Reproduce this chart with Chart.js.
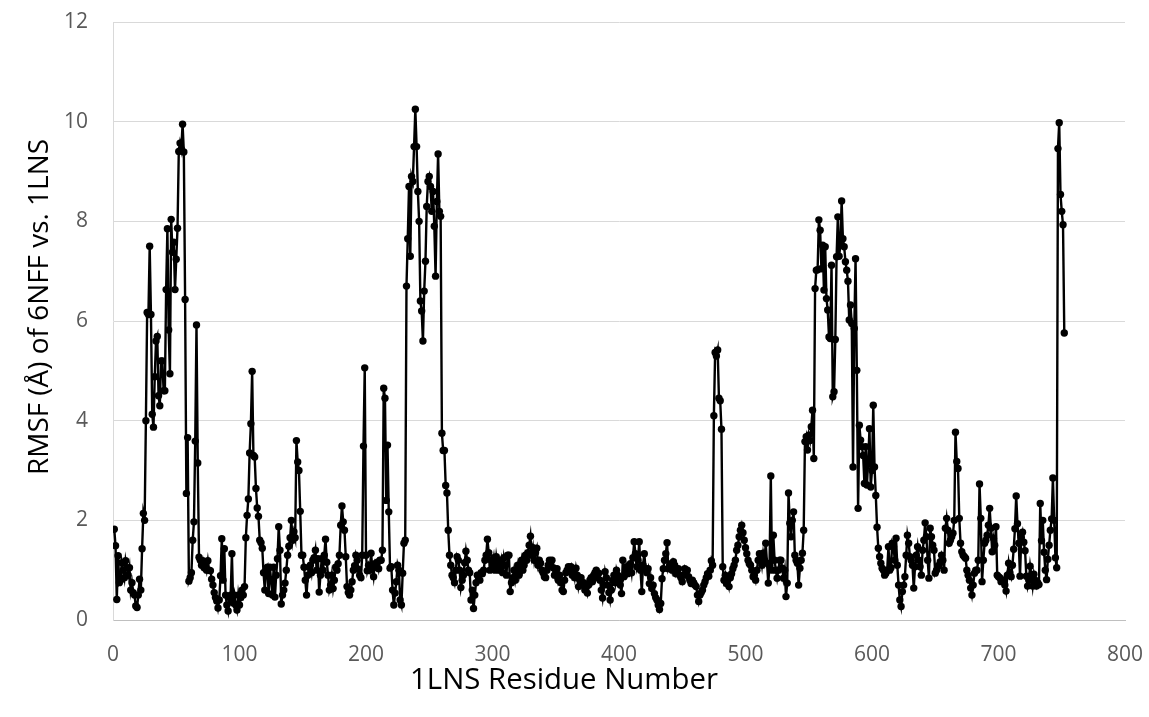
<!DOCTYPE html>
<html>
<head>
<meta charset="utf-8">
<script src="https://cdn.jsdelivr.net/npm/chart.js@4.4.1/dist/chart.umd.min.js"></script>
<style>
  html, body { margin: 0; padding: 0; background: #ffffff; }
  #wrap { width: 1149px; height: 717px; position: relative; }
  canvas { display: block; }
</style>
</head>
<body>
<div id="wrap"><canvas id="c" width="1149" height="717"></canvas></div>
<script>
// ---- data ----
const residueStart = 1; // first residue number
const rmsf = [
  1.82, 1.49, 0.41, 1.29, 0.75, 0.8, 1.15, 1.0, 0.85, 1.19,
  1.05, 0.9, 1.05, 0.6, 0.75, 0.55, 0.5, 0.28, 0.25, 0.5,
  0.82, 0.6, 1.43, 2.14, 2.0, 4.0, 6.17, 6.13, 7.5, 6.13,
  4.13, 3.87, 4.88, 5.6, 5.69, 4.5, 4.3, 5.2, 5.2, 4.6,
  4.6, 6.63, 7.85, 5.82, 4.94, 8.04, 7.38, 7.58, 6.63, 7.24,
  7.86, 9.4, 9.57, 9.45, 9.95, 9.39, 6.43, 2.54, 3.66, 0.78,
  0.85, 0.95, 1.6, 1.97, 3.59, 5.92, 3.15, 1.26, 1.2, 1.1,
  1.19, 1.05, 1.12, 1.0, 1.19, 1.0, 0.99, 0.82, 0.7, 0.55,
  0.45, 0.38, 0.24, 0.4, 0.89, 1.63, 0.8, 1.43, 0.5, 0.3,
  0.18, 0.45, 0.5, 1.33, 0.34, 0.5, 0.3, 0.2, 0.5, 0.3,
  0.45, 0.6, 0.5, 0.67, 1.65, 2.1, 2.43, 3.35, 3.94, 4.99,
  3.3, 3.27, 2.64, 2.25, 2.08, 1.6, 1.55, 1.44, 0.95, 0.6,
  1.0, 1.06, 0.53, 1.06, 0.8, 0.5, 1.06, 0.46, 0.9, 1.23,
  1.87, 1.4, 0.32, 0.5, 0.6, 0.74, 1.0, 1.3, 1.48, 1.65,
  2.0, 1.6, 1.77, 1.65, 3.6, 3.17, 3.0, 2.18, 1.3, 1.3,
  1.06, 0.8, 0.5, 0.9, 1.06, 1.1, 0.95, 1.2, 1.25, 1.4,
  1.0, 1.23, 0.56, 0.9, 1.23, 1.0, 1.3, 1.62, 1.16, 0.9,
  0.6, 0.7, 0.9, 0.63, 0.8, 1.06, 1.0, 1.13, 1.3, 1.9,
  2.29, 1.97, 1.8, 1.27, 0.67, 0.55, 0.5, 0.6, 0.77, 1.0,
  1.09, 1.3, 1.2, 1.02, 0.9, 0.85, 1.3, 3.49, 5.06, 1.3,
  0.99, 1.1, 1.0, 1.34, 1.05, 0.87, 1.13, 1.06, 1.16, 1.03,
  1.2, 1.2, 1.4, 4.65, 4.45, 2.4, 3.51, 2.17, 1.04, 1.07,
  0.6, 0.3, 0.54, 0.77, 1.1, 1.0, 0.4, 0.3, 0.94, 1.54,
  1.6, 6.7, 7.65, 8.7, 7.3, 8.9, 8.8, 9.5, 10.25, 9.5,
  8.6, 8.0, 6.4, 6.2, 5.6, 6.6, 7.2, 8.3, 8.8, 8.9,
  8.7, 8.2, 8.6, 7.9, 6.9, 8.4, 9.35, 8.2, 8.1, 3.75,
  3.4, 3.4, 2.7, 2.55, 1.8, 1.3, 1.1, 0.9, 0.85, 0.75,
  1.0, 1.27, 1.2, 1.0, 0.65, 0.8, 0.9, 1.15, 1.38, 1.2,
  1.0, 0.95, 0.4, 0.6, 0.23, 0.5, 0.75, 0.9, 0.85, 0.8,
  0.95, 0.93, 1.0, 1.2, 1.3, 1.62, 1.35, 1.0, 1.2, 1.1,
  1.25, 1.0, 1.27, 1.1, 1.0, 1.07, 1.2, 0.95, 1.25, 1.1,
  0.9, 1.3, 1.3, 0.57, 0.75, 0.85, 1.0, 0.8, 0.95, 1.1,
  0.9, 1.05, 1.2, 1.0, 1.1, 1.3, 1.2, 1.35, 1.5, 1.68,
  1.3, 1.45, 1.2, 1.35, 1.44, 1.1, 1.2, 1.14, 1.0, 0.95,
  0.87, 0.85, 1.0, 1.1, 1.2, 1.15, 1.2, 1.05, 0.9, 1.0,
  1.03, 0.8, 0.9, 0.75, 0.6, 0.57, 0.8, 0.95, 1.0, 1.07,
  1.0, 1.07, 0.9, 1.0, 0.85, 1.04, 0.9, 0.67, 0.8, 0.85,
  0.7, 0.75, 0.6, 0.65, 0.54, 0.7, 0.8, 0.85, 0.77, 0.9,
  0.95, 1.0, 0.85, 0.94, 0.8, 0.6, 0.44, 0.7, 0.97, 0.85,
  0.7, 0.55, 0.4, 0.6, 0.8, 0.9, 0.75, 1.0, 0.9, 0.8,
  0.7, 0.53, 1.2, 0.87, 0.95, 1.07, 0.93, 1.0, 1.13, 0.95,
  1.25, 1.57, 1.33, 1.07, 1.2, 1.57, 1.0, 0.57, 1.1, 1.33,
  1.03, 0.95, 1.03, 0.73, 0.85, 0.63, 0.7, 0.53, 0.45, 0.4,
  0.3, 0.21, 0.33, 0.83, 1.03, 1.2, 1.33, 1.55, 1.03, 1.1,
  1.13, 1.0, 1.17, 1.1, 0.93, 1.0, 1.03, 0.9, 0.85, 0.77,
  0.9, 1.03, 0.95, 1.0, 0.87, 0.8, 0.73, 0.8, 0.75, 0.7,
  0.67, 0.5, 0.37, 0.5, 0.55, 0.6, 0.7, 0.77, 0.85, 0.93,
  0.88, 1.0, 1.19, 1.1, 4.1, 5.37, 5.3, 5.42, 4.45, 4.4,
  3.83, 1.07, 0.8, 0.9, 0.73, 0.8, 0.67, 0.85, 0.93, 1.03,
  1.1, 1.2, 1.4, 1.5, 1.67, 1.8, 1.9, 1.75, 1.6, 1.45,
  1.33, 1.2, 1.13, 1.1, 1.0, 0.87, 0.9, 0.8, 1.0, 1.2,
  1.33, 1.27, 1.1, 1.34, 1.2, 1.54, 1.14, 0.74, 1.1, 2.89,
  1.0, 1.7, 1.2, 1.0, 0.84, 1.0, 1.2, 1.2, 1.04, 0.84,
  1.0, 0.47, 0.74, 2.55, 1.94, 1.67, 2.0, 2.17, 1.3, 1.2,
  1.14, 0.7, 1.04, 1.2, 1.34, 1.8, 3.58, 3.68, 3.41, 3.71,
  3.6, 3.88, 4.21, 3.24, 6.65, 7.02, 7.03, 8.03, 7.82, 7.05,
  7.52, 6.62, 7.49, 6.45, 6.22, 5.68, 5.65, 7.12, 4.48, 4.58,
  5.63, 7.29, 8.09, 7.3, 7.52, 8.41, 7.65, 7.49, 7.19, 7.02,
  6.8, 6.02, 6.32, 5.95, 3.07, 5.85, 7.25, 5.01, 2.24, 3.91,
  3.61, 3.48, 3.3, 2.74, 3.48, 2.71, 3.2, 3.84, 2.67, 3.0,
  4.31, 3.07, 2.5, 1.86, 1.44, 1.27, 1.14, 1.04, 1.0, 0.9,
  0.94, 1.0, 1.47, 1.0, 1.05, 1.54, 1.47, 1.2, 1.64, 1.1,
  0.7, 0.4, 0.27, 0.57, 0.7, 0.87, 1.3, 1.7, 1.54, 1.27,
  1.2, 1.1, 0.64, 1.07, 1.3, 1.47, 1.2, 1.07, 0.9, 1.4,
  1.6, 1.95, 1.67, 1.2, 0.84, 1.84, 1.67, 1.5, 1.4, 0.94,
  1.0, 1.07, 1.1, 1.17, 1.3, 1.2, 1.0, 1.84, 2.04, 1.8,
  1.54, 1.6, 1.67, 1.74, 2.0, 3.77, 3.18, 3.04, 2.04, 1.54,
  1.37, 1.3, 1.27, 1.24, 1.0, 0.9, 0.8, 0.64, 0.5, 0.7,
  0.94, 1.0, 1.0, 1.2, 2.73, 2.04, 0.77, 1.2, 1.54, 1.6,
  1.7, 1.9, 2.24, 1.84, 1.37, 1.64, 1.5, 1.87, 0.9, 0.87,
  0.85, 0.77, 0.8, 0.8, 0.7, 0.58, 0.9, 1.14, 0.95, 0.87,
  1.1, 1.42, 1.83, 2.49, 1.93, 1.54, 0.88, 1.66, 1.76, 1.56,
  1.39, 0.88, 0.68, 0.8, 1.08, 0.9, 0.68, 0.92, 0.8, 0.68,
  0.75, 0.71, 2.34, 1.59, 2.0, 1.36, 1.0, 0.81, 1.22, 1.5,
  1.8, 2.03, 2.85, 2.0, 1.25, 1.05, 9.46, 9.98, 8.54, 8.2,
  7.93, 5.76
];
const xTickValues = [0, 100, 200, 300, 400, 500, 600, 700, 800];
const yTickValues = [0, 2, 4, 6, 8, 10, 12];
const xTitle = '1LNS Residue Number';
const yTitle = 'RMSF (\u00C5) of 6NFF vs. 1LNS';

// ---- chart ----
const points = rmsf.map((v, i) => ({ x: residueStart + i, y: v }));
const FONT = "'Open Sans', 'DejaVu Sans', sans-serif";

function fitFont(ctx, text, targetWidth, base) {
  ctx.font = base + 'px ' + FONT;
  const w = ctx.measureText(text).width;
  const size = base * targetWidth / w;
  ctx.font = size.toFixed(2) + 'px ' + FONT;
}

const axisTitles = {
  id: 'axisTitles',
  afterDraw(chart) {
    const ctx = chart.ctx;
    ctx.save();
    ctx.fillStyle = '#000000';
    ctx.textAlign = 'center';
    ctx.textBaseline = 'middle';
    fitFont(ctx, xTitle, 308, 26);
    ctx.fillText(xTitle, 564, 681);
    ctx.translate(40, 307);
    ctx.rotate(-Math.PI / 2);
    fitFont(ctx, yTitle, 336, 26);
    ctx.fillText(yTitle, 0, 0);
    ctx.restore();
  }
};

new Chart(document.getElementById('c'), {
  type: 'line',
  data: {
    datasets: [{
      data: points,
      borderColor: '#000000',
      backgroundColor: '#000000',
      borderWidth: 2.4,
      pointRadius: 3.7,
      pointBackgroundColor: '#000000',
      pointBorderColor: '#000000',
      pointBorderWidth: 0,
      tension: 0,
      fill: false
    }]
  },
  options: {
    responsive: false,
    animation: false,
    devicePixelRatio: 1,
    layout: { padding: { top: 22, right: 24, left: 0, bottom: 0 } },
    plugins: { legend: { display: false }, tooltip: { enabled: false }, title: { display: false } },
    scales: {
      x: {
        type: 'linear',
        min: 0, max: 800,
        afterBuildTicks: (s) => { s.ticks = xTickValues.map(v => ({ value: v })); },
        afterFit: (s) => { s.height = 97; s.paddingLeft = 0; s.paddingRight = 0; },
        grid: { display: false, drawTicks: false },
        border: { display: true, color: '#bfbfbf', width: 1 },
        ticks: { color: '#595959', font: { family: FONT, size: 21 }, padding: 22, maxRotation: 0, autoSkip: false }
      },
      y: {
        type: 'linear',
        min: 0, max: 12,
        afterBuildTicks: (s) => { s.ticks = yTickValues.map(v => ({ value: v })); },
        afterFit: (s) => { s.width = 113; s.paddingTop = 0; s.paddingBottom = 0; },
        grid: { color: '#d9d9d9', lineWidth: 1, drawTicks: false },
        border: { display: true, color: '#d9d9d9', width: 1 },
        ticks: { color: '#595959', font: { family: FONT, size: 21 }, padding: 25 }
      }
    }
  },
  plugins: [axisTitles]
});
</script>
</body>
</html>
